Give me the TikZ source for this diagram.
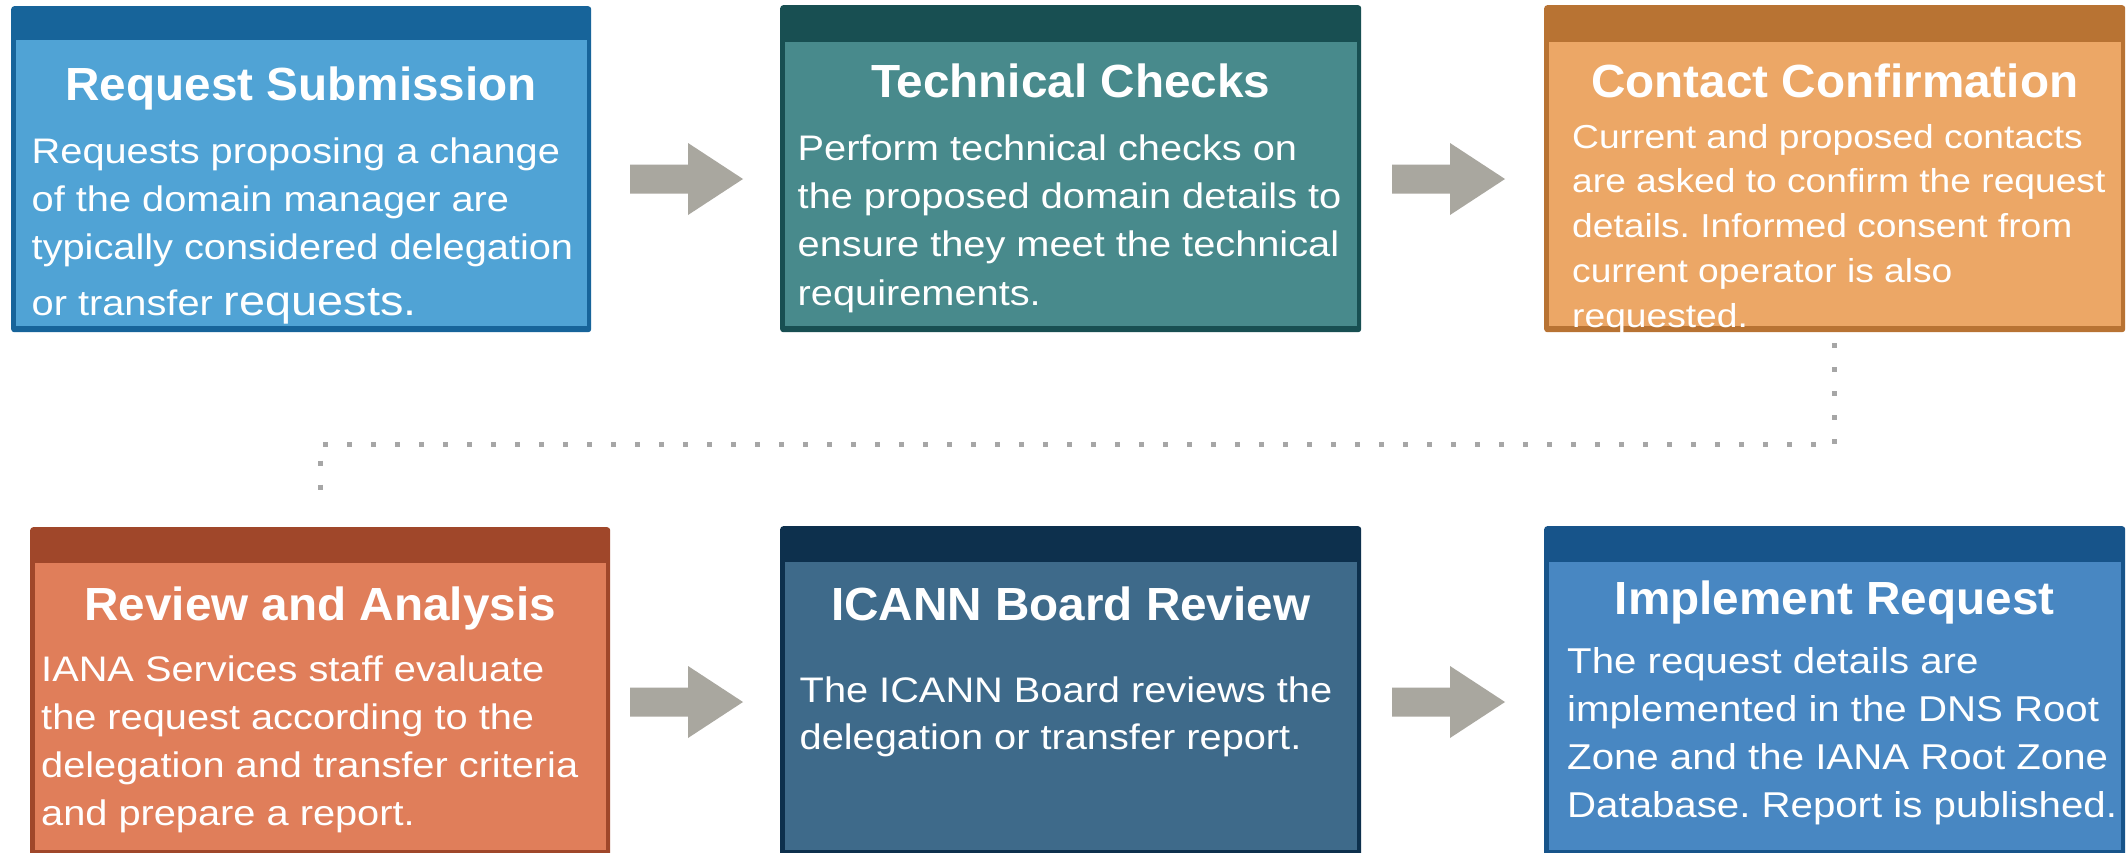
\documentclass[tikz,border=0pt]{standalone}
\usepackage{fontspec}
\setmainfont{Liberation Sans}[FakeStretch=1.12]
\newfontfamily\ttlfont{Liberation Sans}[FakeStretch=1.025]
\frenchspacing
\usetikzlibrary{calc}
\definecolor{hA}{HTML}{17649A}\definecolor{cA}{HTML}{50A3D5}
\definecolor{hB}{HTML}{184F52}\definecolor{cB}{HTML}{488A8C}
\definecolor{hC}{HTML}{B87333}\definecolor{cC}{HTML}{ECA766}
\definecolor{hD}{HTML}{A0472A}\definecolor{cD}{HTML}{E07E5A}
\definecolor{hE}{HTML}{0D304D}\definecolor{cE}{HTML}{3E6A8A}
\definecolor{hF}{HTML}{17548A}\definecolor{cF}{HTML}{4887C2}
\definecolor{arrowc}{HTML}{A9A79F}
\definecolor{dotc}{HTML}{A6A6A6}
\tikzset{
  stepbox/.style={draw=none, rounded corners=3pt, inner sep=0pt, anchor=north west},
  ttl/.style={text=white, anchor=base, inner sep=0pt, font=\ttlfont\bfseries\fontsize{46.5}{48}\selectfont},
  bodytxt/.style={text=white, align=left, anchor=base west, inner sep=0pt},
  blockarrow/.style={fill=arrowc},
  dotline/.style={draw=dotc, line width=5pt, dash pattern=on 5pt off 19pt}
}
\newcommand\blkarrow[2]{%
  \fill[blockarrow] (#1,#2-14.5) -- ++(58,0) -- ++(0,-21.5) -- (#1+113,#2) -- (#1+58,#2+36) -- ++(0,-21.5) -- (#1,#2+14.5) -- cycle;}
\begin{document}
\begin{tikzpicture}[x=1pt,y=-1pt]
\fill[white] (0,0) rectangle (2126,852);
\useasboundingbox (0,0) rectangle (2126,852);

% boxes
\node[stepbox, fill=hA, minimum width=580pt, minimum height=326pt] (b1) at (11,6) {};
\fill[cA] (16,40) rectangle (587,326);
\node[stepbox, fill=hB, minimum width=581pt, minimum height=327pt] (b2) at (780,5) {};
\fill[cB] (785,42) rectangle (1357,326);
\node[stepbox, fill=hC, minimum width=581pt, minimum height=327pt] (b3) at (1544,5) {};
\fill[cC] (1549,42) rectangle (2121,326);
\node[stepbox, fill=hD, minimum width=580pt, minimum height=330pt] (b4) at (30,527) {};
\fill[cD] (35,563) rectangle (606,850);
\node[stepbox, fill=hE, minimum width=581pt, minimum height=330pt] (b5) at (780,526) {};
\fill[cE] (785,562) rectangle (1357,850);
\node[stepbox, fill=hF, minimum width=581pt, minimum height=330pt] (b6) at (1544,526) {};
\fill[cF] (1549,562) rectangle (2121,850);

% titles
\node[ttl] (t1) at (b1.north |- 0,100) {Request Submission};
\node[ttl] (t2) at (b2.north |- 0,97) {Technical Checks};
\node[ttl] (t3) at (b3.north |- 0,97) {Contact Confirmation};
\node[ttl] (t4) at (b4.north |- 0,620) {Review and Analysis};
\node[ttl] (t5) at (b5.north |- 0,620) {ICANN Board Review};
\node[ttl] (t6) at (b6.north |- 0,614) {Implement Request};

% body texts (anchored at the baseline of their last line)
\node[bodytxt, font=\fontsize{35.5}{48}\selectfont] (d1) at (31.5,315)
  {Requests proposing a change\\of the domain manager are\\typically considered delegation\\[8pt]or transfer {\fontsize{41.8}{48}\selectfont requests.}};
\node[bodytxt, font=\fontsize{35.5}{48.3}\selectfont] (d2) at (797.5,305)
  {Perform technical checks on\\the proposed domain details to\\ensure they meet the technical\\requirements.};
\node[bodytxt, font=\fontsize{33.2}{44.75}\selectfont] (d3) at (1572,327)
  {Current and proposed contacts\\are asked to confirm the request\\details. Informed consent from\\current operator is also\\requested.};
\node[bodytxt, font=\fontsize{35.5}{47.7}\selectfont] (d4) at (41,825)
  {IANA Services staff evaluate\\the request according to the\\delegation and transfer criteria\\and prepare a report.};
\node[bodytxt, font=\fontsize{35.5}{47}\selectfont] (d5) at (799.5,749)
  {The ICANN Board reviews the\\delegation or transfer report.};
\node[bodytxt, font=\fontsize{35.9}{47.7}\selectfont] (d6) at (1567,817)
  {The request details are\\implemented in the DNS Root\\Zone and the IANA Root Zone\\Database. Report is published.};

% block arrows
\blkarrow{630}{179}
\blkarrow{1392}{179}
\blkarrow{630}{702}
\blkarrow{1392}{702}

% dotted connector
\coordinate (c1) at (b3.south |- 0,343);
\coordinate (c2) at (b4.north |- 0,508);
\coordinate (mid) at (0,444);
\draw[dotline] (c1) -- (c1 |- mid) -- (c2 |- mid) -- (c2);
\end{tikzpicture}
\end{document}
